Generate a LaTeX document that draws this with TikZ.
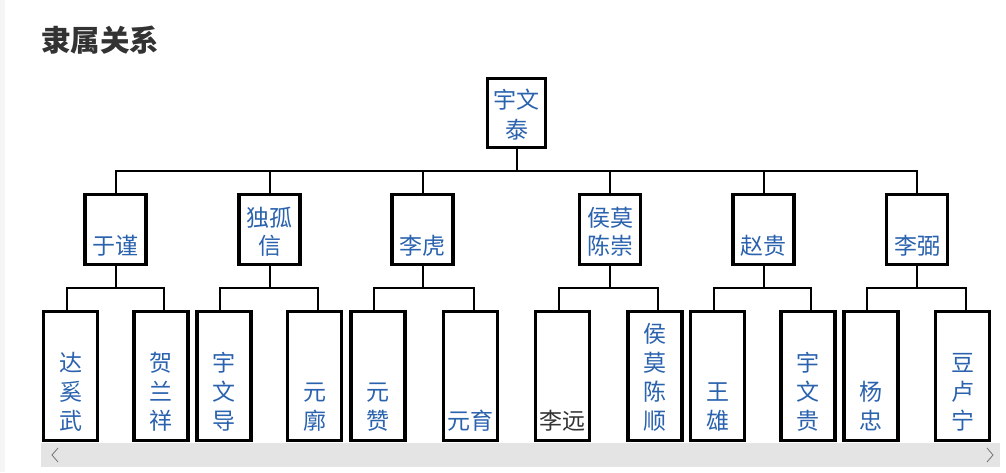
\documentclass[tikz,border=0pt]{standalone}
\usepackage{fontspec}
\newfontfamily\cjk{Noto Sans CJK SC}
\usetikzlibrary{calc}
\definecolor{nameblue}{HTML}{2A62AE}
\definecolor{titlegray}{HTML}{333333}
\definecolor{bargray}{HTML}{E4E4E4}
\newcommand\leafbox[1]{\parbox[c][129pt][b]{54pt}{\centering\fontsize{23}{29}\selectfont #1\par\vspace*{9.5pt}}}
\newcommand\midbox[1]{\parbox[c][70pt][b]{61pt}{\centering\fontsize{23}{28}\selectfont #1\par\vspace*{8pt}}}
\newcommand\topbox[1]{\parbox[c][69pt][b]{58pt}{\centering\fontsize{23}{30}\selectfont #1\par\vspace*{7pt}}}
\tikzset{
  box/.style={draw=black, line width=3.2pt, inner sep=0pt, fill=white, text=nameblue, font=\cjk},
  conn/.style={draw=black, line width=2pt},
}
\begin{document}
\begin{tikzpicture}[x=1pt, y=-1pt]
\useasboundingbox (0,0) rectangle (1006,472);
\fill[white] (0,0) rectangle (1006,472);
\fill[black!4] (0,0) rectangle (5,472);
\node[anchor=west, text=titlegray, font=\cjk\bfseries\fontsize{29.5}{32}\selectfont, inner sep=0pt] (title) at (41,40) {隶属关系};

% root
\node[box] (root) at (516.5,113) {\topbox{宇文\\泰}};

% level 2
\node[box] (yujin) at (115.5,229.5) {\midbox{于谨}};
\node[box] (dugu)  at (269.5,229.5) {\midbox{独孤\\信}};
\node[box] (lihu)  at (422.5,229.5) {\midbox{李虎}};
\node[box] (houmo) at (610,229.5)   {\midbox{侯莫\\陈崇}};
\node[box] (zhao)  at (763.5,229.5) {\midbox{赵贵}};
\node[box] (libi)  at (917,229.5)   {\midbox{李弼}};

% leaves
\node[box] (daxi)   at (70.5,376)  {\leafbox{达\\奚\\武}};
\node[box] (helan)  at (161,376)   {\leafbox{贺\\兰\\祥}};
\node[box] (ywdao)  at (224,376)   {\leafbox{宇\\文\\导}};
\node[box] (yuankuo) at (314.5,376) {\leafbox{元\\廓}};
\node[box] (yuanzan) at (378,376)  {\leafbox{元\\赞}};
\node[box] (yuanyu) at (470.5,376) {\leafbox{元育}};
\node[box, text=titlegray] (liyuan) at (562.5,376) {\leafbox{李远}};
\node[box] (hmshun) at (655,376)   {\leafbox{侯\\莫\\陈\\顺}};
\node[box] (wangx)  at (717.5,376) {\leafbox{王\\雄}};
\node[box] (ywgui)  at (808,376)   {\leafbox{宇\\文\\贵}};
\node[box] (yangz)  at (871,376)   {\leafbox{杨\\忠}};
\node[box] (doulu)  at (962.5,376) {\leafbox{豆\\卢\\宁}};

% top bus
\draw[conn] (root.south) -- ++(0,22) coordinate (bus);
\draw[conn] (yujin.north) |- (bus) -| (libi.north);
\foreach \n in {dugu,lihu,houmo,zhao}
  \draw[conn] (\n.north) -- (\n.north |- bus);

% brackets
\foreach \p/\a/\b in {yujin/daxi/helan, dugu/ywdao/yuankuo, lihu/yuanzan/yuanyu,
                      houmo/liyuan/hmshun, zhao/wangx/ywgui, libi/yangz/doulu} {
  \draw[conn] (\p.south) -- ++(0,22) coordinate (br);
  \draw[conn] ([xshift=-4pt]\a.north) |- (br) -| ([xshift=3pt]\b.north);
}

% scroll bar
\fill[bargray] (41,443) rectangle (1000,467);
\draw[black!55, line width=0.8pt] (58,448) -- (52,455) -- (58,462);
\draw[black!55, line width=0.8pt] (987,448) -- (993,455) -- (987,462);
\end{tikzpicture}
\end{document}
